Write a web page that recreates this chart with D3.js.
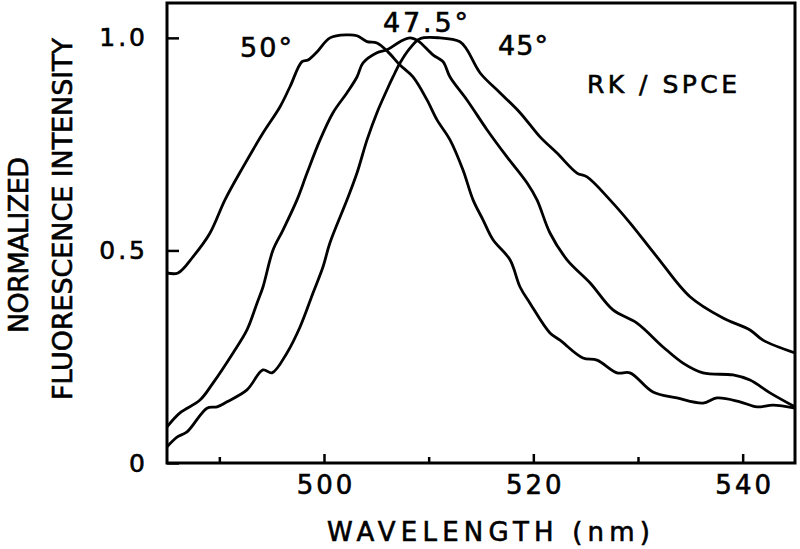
<!DOCTYPE html>
<html>
<head>
<meta charset="utf-8">
<script src="https://cdn.jsdelivr.net/npm/d3@7"></script>
<style>
  body { margin: 0; background: #fff; }
  svg { display: block; }
  text { font-family: "DejaVu Sans", sans-serif; fill: #000; stroke: #000; stroke-width: 0.6px; }
</style>
</head>
<body>
<svg id="chart" width="800" height="549"></svg>
<script>
// wavelength (nm) / normalized intensity
var wl50 = [485.0, 486.05, 487.48, 489.11, 490.54, 492.26, 494.17, 495.8, 496.75, 497.9, 498.47, 499.33, 500.57, 502.2, 503.15, 504.11, 505.06, 506.11, 507.26, 508.5, 509.84, 510.8, 512.04, 513.28, 514.24, 515.19, 516.15, 517.77, 518.73, 519.68, 521.59, 522.55, 524.74, 526.08, 527.99, 529.23, 531.43, 533.72, 536.21, 537.55, 539.74, 541.37, 542.9, 545.0];
var int50 = [0.447, 0.447, 0.485, 0.541, 0.619, 0.696, 0.776, 0.838, 0.885, 0.944, 0.948, 0.967, 1.0, 1.007, 1.005, 0.991, 0.988, 0.967, 0.936, 0.908, 0.854, 0.807, 0.76, 0.689, 0.619, 0.572, 0.525, 0.478, 0.414, 0.376, 0.306, 0.289, 0.247, 0.242, 0.212, 0.212, 0.167, 0.153, 0.141, 0.153, 0.144, 0.132, 0.136, 0.129];

var wl475 = [485.0, 486.24, 488.15, 489.39, 491.31, 492.64, 493.6, 494.17, 495.13, 496.08, 497.42, 498.38, 499.62, 500.86, 502.2, 503.15, 503.73, 505.06, 506.02, 507.26, 508.22, 508.98, 510.41, 511.37, 512.04, 513.66, 515.57, 517.48, 519.39, 520.35, 521.59, 523.22, 525.41, 527.61, 529.9, 532.39, 534.3, 536.21, 539.08, 540.7, 542.61, 545.0];
var int475 = [0.085, 0.118, 0.148, 0.188, 0.259, 0.313, 0.376, 0.414, 0.501, 0.548, 0.619, 0.682, 0.76, 0.824, 0.871, 0.908, 0.941, 0.965, 0.972, 0.991, 1.0, 0.993, 0.96, 0.944, 0.908, 0.854, 0.784, 0.72, 0.659, 0.619, 0.541, 0.478, 0.424, 0.36, 0.329, 0.273, 0.235, 0.212, 0.207, 0.195, 0.165, 0.132];

var wl45 = [485.0, 485.96, 486.91, 488.82, 489.78, 490.73, 492.64, 494.17, 495.03, 496.46, 497.71, 498.95, 499.9, 500.57, 502.2, 503.15, 504.11, 505.06, 506.02, 506.59, 507.26, 508.22, 509.17, 511.08, 512.99, 513.66, 514.9, 516.81, 518.73, 520.64, 522.26, 524.17, 525.13, 527.32, 529.23, 531.81, 534.97, 538.12, 540.7, 541.94, 545.0];
var int45 = [0.038, 0.061, 0.073, 0.129, 0.132, 0.144, 0.172, 0.219, 0.212, 0.259, 0.32, 0.4, 0.461, 0.518, 0.619, 0.682, 0.76, 0.824, 0.878, 0.908, 0.941, 0.976, 0.998, 1.0, 0.991, 0.972, 0.918, 0.871, 0.824, 0.767, 0.729, 0.682, 0.673, 0.619, 0.565, 0.485, 0.391, 0.341, 0.313, 0.289, 0.259];

var xTicks = [490, 500, 510, 520, 530, 540];
var xLabelled = [500, 520, 540];
var yTicks = [0, 0.5, 1.0];
var yTickLabels = ['0', '0.5', '1.0'];

var svg = d3.select('#chart');
var margin = { left: 167, right: 5, top: 3, bottom: 86 };
var width = 800 - margin.left - margin.right;
var height = 549 - margin.top - margin.bottom;

var x = d3.scaleLinear().domain([485, 545]).range([0, width]);
var y = d3.scaleLinear().domain([0, 1.082]).range([height, 0]);

var g = svg.append('g').attr('transform', 'translate(' + margin.left + ',' + margin.top + ')');

// clip so curves don't spill over the frame
g.append('clipPath').attr('id', 'plotclip')
  .append('rect').attr('width', width).attr('height', height);

var curves = [
  { wl: wl50, val: int50 },
  { wl: wl475, val: int475 },
  { wl: wl45, val: int45 }
];

var line = d3.line()
  .x(function(d) { return x(d[0]); })
  .y(function(d) { return y(d[1]); })
  .curve(d3.curveCatmullRom.alpha(0.5));

g.append('g').attr('clip-path', 'url(#plotclip)')
  .selectAll('path.trace').data(curves).enter().append('path')
  .attr('class', 'trace')
  .attr('d', function(c) { return line(d3.zip(c.wl, c.val)); })
  .attr('fill', 'none')
  .attr('stroke', '#000')
  .attr('stroke-width', 2.8)
  .attr('stroke-linejoin', 'round');

// x axis, ticks pointing inward
var xAxis = d3.axisBottom(x)
  .tickValues(xTicks)
  .tickSize(-8)
  .tickPadding(13)
  .tickFormat(function(d) { return xLabelled.indexOf(d) >= 0 ? d : ''; });

var xg = g.append('g').attr('transform', 'translate(0,' + height + ')').call(xAxis);
xg.select('.domain').remove();
xg.selectAll('.tick line')
  .attr('stroke', '#000')
  .attr('stroke-width', 2.5)
  .attr('y2', function(d) { return xLabelled.indexOf(d) >= 0 ? -9 : -6; });
xg.selectAll('.tick text')
  .attr('font-size', 26)
  .attr('font-family', '"DejaVu Sans", sans-serif')
  .style('letter-spacing', '3px')
  .attr('dx', '1.5px');

var yAxis = d3.axisLeft(y)
  .tickValues(yTicks)
  .tickSize(-12)
  .tickPadding(19)
  .tickFormat(function(d, i) { return yTickLabels[i]; });

var yg = g.append('g').call(yAxis);
yg.select('.domain').remove();
yg.selectAll('.tick line').attr('stroke', '#000').attr('stroke-width', 2.5);
yg.selectAll('.tick text')
  .attr('font-size', 25)
  .attr('font-family', '"DejaVu Sans", sans-serif')
  .style('letter-spacing', '3px');

// frame
g.append('rect')
  .attr('width', width).attr('height', height)
  .attr('fill', 'none')
  .attr('stroke', '#000')
  .attr('stroke-width', 3);

// annotations
var notes = [
  { t: '50°', px: 240, py: 57, len: 52, fs: 27 },
  { t: '47.5°', px: 383, py: 32, len: 85, fs: 27 },
  { t: '45°', px: 498, py: 55, len: 50, fs: 27 },
  { t: 'RK / SPCE', px: 587, py: 93, len: 150, fs: 25 }
];
svg.selectAll('text.note').data(notes).enter().append('text')
  .attr('class', 'note')
  .attr('x', function(d) { return d.px; })
  .attr('y', function(d) { return d.py; })
  .attr('font-size', function(d) { return d.fs; })
  .attr('textLength', function(d) { return d.len; })
  .attr('lengthAdjust', 'spacing')
  .text(function(d) { return d.t; });

svg.append('text')
  .attr('x', 327).attr('y', 541)
  .attr('font-size', 26)
  .attr('textLength', 323).attr('lengthAdjust', 'spacing')
  .text('WAVELENGTH (nm)');

svg.append('text')
  .attr('transform', 'translate(28,245) rotate(-90)')
  .attr('text-anchor', 'middle')
  .attr('font-size', 27)
  .attr('textLength', 176).attr('lengthAdjust', 'spacing')
  .text('NORMALIZED');

svg.append('text')
  .attr('transform', 'translate(72,219) rotate(-90)')
  .attr('text-anchor', 'middle')
  .attr('font-size', 27)
  .attr('textLength', 362).attr('lengthAdjust', 'spacing')
  .text('FLUORESCENCE  INTENSITY');
</script>
</body>
</html>
